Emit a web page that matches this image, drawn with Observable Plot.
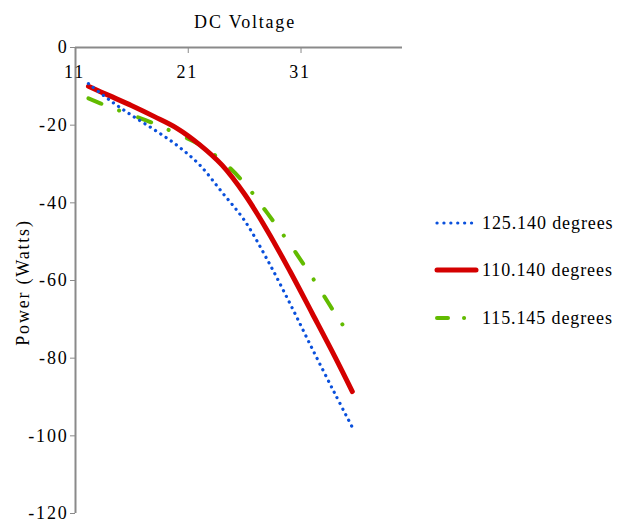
<!DOCTYPE html>
<html>
<head>
<meta charset="utf-8">
<script src="https://cdn.jsdelivr.net/npm/d3@7"></script>
<script src="https://cdn.jsdelivr.net/npm/@observablehq/plot@0.6"></script>
<style>
  html, body { margin: 0; padding: 0; background: #fff; }
  #wrap { position: relative; width: 627px; height: 527px; font-family: "Liberation Serif", "Times New Roman", serif; }
  #legend { position: absolute; left: 0; top: 0; }
</style>
</head>
<body>
<div id="wrap"></div>
<script>
// Data
const voltage = [12.15, 14, 16, 18, 20, 22, 24, 26, 28, 30, 32, 34, 35.55];
const power125 = [-9.3, -13.5, -17.5, -21.2, -25.2, -30.2, -37.3, -44.6, -54.6, -65.8, -77.6, -89.1, -97.8];
const power110 = [-10.0, -12.4, -15.0, -17.8, -20.8, -25.0, -30.3, -37.8, -47.1, -57.5, -68.5, -79.6, -88.6];
const power115 = [-13.1, -15.3, -17.4, -19.6, -22.2, -25.0, -29.2, -35.0, -42.6, -50.6, -59.2, -68.4, -75.0];
const seriesNames = ["125.140 degrees", "110.140 degrees", "115.145 degrees"];
const xTicks = [11, 21, 31];
const yTicks = [0, -20, -40, -60, -80, -100, -120];
const xLabel = "DC Voltage";
const yLabel = "Power (Watts)";

const colors = {blue: "#0a50dc", red: "#d40000", green: "#62bb00"};
const axisGray = "#8a8a8a";
const serif = "'Liberation Serif', 'Times New Roman', serif";

const rows = (ys) => voltage.map((v, i) => ({v, p: ys[i]}));

const plot = Plot.plot({
  width: 627,
  height: 527,
  marginLeft: 75,
  marginRight: 225,
  marginTop: 47,
  marginBottom: 14,
  x: {domain: [11, 40]},
  y: {domain: [-120, 0]},
  style: {fontFamily: serif, fontSize: "18px", color: "#000", background: "#fff"},
  marks: [
    // axis lines
    Plot.ruleY([0], {stroke: axisGray, strokeWidth: 2}),
    Plot.ruleX([11], {stroke: axisGray, strokeWidth: 2}),
    // y axis
    Plot.axisY({ticks: yTicks, tickSize: 5, tickPadding: 2, tickFormat: d => String(d), stroke: axisGray, fill: "#000", label: null, fontSize: 18}),
    // x axis ticks (labels drawn below the line)
    Plot.axisX({anchor: "top", ticks: xTicks, tickSize: -5, tickFormat: () => "", stroke: axisGray, label: null}),
    Plot.text(xTicks, {x: d => d, frameAnchor: "top", lineAnchor: "middle", dy: 25, dx: -1, text: d => String(d), fill: "#000", fontSize: 18}),
    // titles
    Plot.text([xLabel], {frameAnchor: "top", lineAnchor: "middle", textAnchor: "middle", dy: -25, dx: 6, text: d => d, fill: "#000", fontSize: 18}),
    Plot.text([yLabel], {frameAnchor: "left", lineAnchor: "middle", textAnchor: "middle", dx: -52, dy: 2, rotate: -90, text: d => d, fill: "#000", fontSize: 18}),
    // series
    Plot.line(rows(power115), {x: "v", y: "p", stroke: colors.green, strokeWidth: 4, strokeLinecap: "round", strokeDasharray: "14 19 0.1 20", curve: "catmull-rom"}),
    Plot.line(rows(power110), {x: "v", y: "p", stroke: colors.red, strokeWidth: 5, strokeLinecap: "round", curve: "catmull-rom"}),
    Plot.line(rows(power125), {x: "v", y: "p", stroke: colors.blue, strokeWidth: 3.2, strokeLinecap: "round", strokeDasharray: "0.1 6.2", curve: "catmull-rom"})
  ]
});
// wider letter spacing like the reference's typesetting
d3.select(plot).selectAll("text").attr("letter-spacing", 1.8);
document.getElementById("wrap").appendChild(plot);

// Legend (overlay SVG)
const legend = d3.select("#wrap").append("svg")
  .attr("id", "legend").attr("width", 627).attr("height", 527);
const items = [
  {name: seriesNames[0], color: colors.blue, width: 3.2, dash: "0.1 6.8", y: 223},
  {name: seriesNames[1], color: colors.red, width: 5, dash: null, y: 270},
  {name: seriesNames[2], color: colors.green, width: 4, dash: "11 16 0.1 30", y: 318}
];
const g = legend.selectAll("g").data(items).join("g");
g.append("line")
  .attr("x1", 437).attr("x2", 476)
  .attr("y1", d => d.y).attr("y2", d => d.y)
  .attr("stroke", d => d.color).attr("stroke-width", d => d.width)
  .attr("stroke-linecap", "round")
  .attr("stroke-dasharray", d => d.dash);
g.append("text")
  .attr("x", 482).attr("y", d => d.y).attr("dy", "0.35em")
  .attr("font-family", serif)
  .attr("font-size", 18).attr("letter-spacing", 0.9)
  .attr("fill", "#000")
  .text(d => d.name);
</script>
</body>
</html>
